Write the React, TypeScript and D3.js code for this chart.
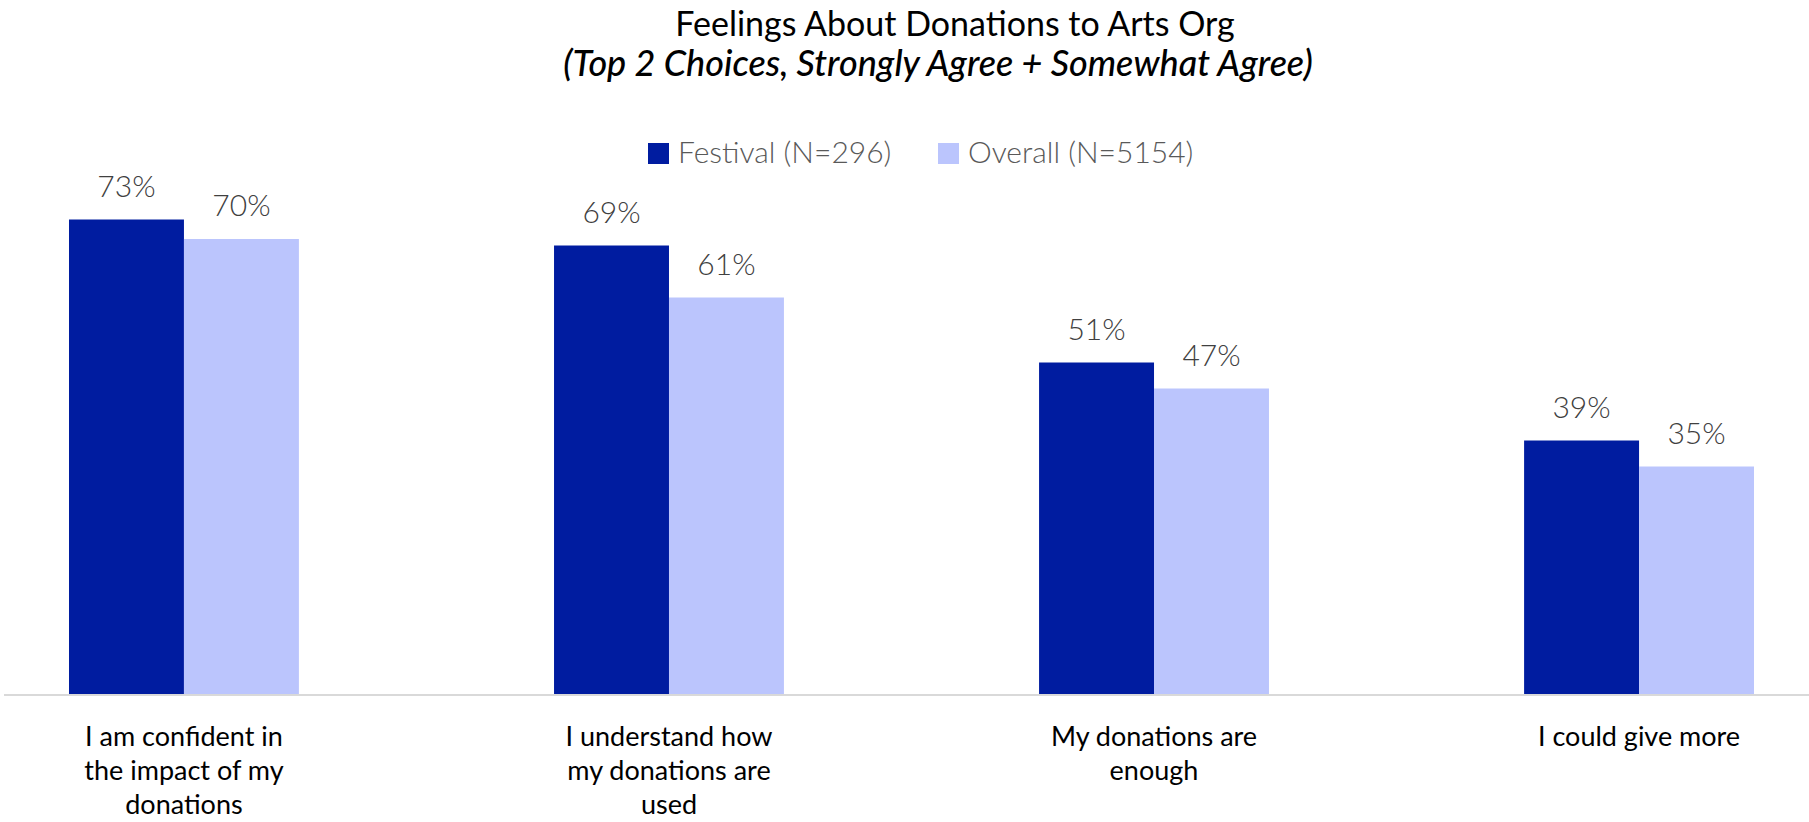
import React from "react";
import * as d3 from "d3";

const categories: string[][] = [
  ["I am confident in", "the impact of my", "donations"],
  ["I understand how", "my donations are", "used"],
  ["My donations are", "enough"],
  ["I could give more"],
];
const seriesNames = ["Festival (N=296)", "Overall (N=5154)"];
const festival = [73, 69, 51, 39];
const overall = [70, 61, 47, 35];
const seriesColors = ["#001CA0", "#BBC5FD"];

const W = 1809;
const H = 822;
const FONT = "Lato, 'Open Sans', sans-serif";

export default function App() {
  const keys = categories.map((c) => c.join(" "));
  const x = d3.scaleBand<string>().domain(keys).range([4, 1819]).paddingInner(0.526).paddingOuter(0.134);
  const xs = d3.scaleBand<number>().domain([0, 1]).range([0, x.bandwidth()]).padding(0);
  const y = d3.scaleLinear().domain([0, 100]).range([694, 44]);
  const series = [festival, overall];

  return (
    <svg width={W} height={H} style={{ position: "absolute", left: 0, top: 0, background: "#fff" }} fontFamily={FONT}>
      <text x={955} y={36} textAnchor="middle" fontSize={34} fill="#000">
        Feelings About Donations to Arts Org
      </text>
      <text x={938} y={76} textAnchor="middle" fontSize={36} fontStyle="italic" fontWeight={500} fill="#000">
        (Top 2 Choices, Strongly Agree + Somewhat Agree)
      </text>

      {/* legend */}
      <g>
        <rect x={648} y={143} width={21} height={21} fill={seriesColors[0]} />
        <text x={678} y={163} fontSize={30} fontWeight={300} fill="#595959">{seriesNames[0]}</text>
        <rect x={938} y={143} width={21} height={21} fill={seriesColors[1]} />
        <text x={968} y={163} fontSize={30} fontWeight={300} fill="#595959">{seriesNames[1]}</text>
      </g>

      {series.map((vals, si) =>
        vals.map((v, i) => {
          const bx = (x(keys[i]) as number) + (xs(si) as number);
          const bw = xs.bandwidth();
          return (
            <g key={`${si}-${i}`}>
              <rect x={bx} y={y(v)} width={bw} height={y(0) - y(v)} fill={seriesColors[si]} />
              <text x={bx + bw / 2} y={y(v) - 23} textAnchor="middle" fontSize={30} fontWeight={300} fill="#404040">
                {v}%
              </text>
            </g>
          );
        })
      )}

      <line x1={4} x2={W} y1={695} y2={695} stroke="#D9D9D9" strokeWidth={2} />

      {categories.map((lines, i) => {
        const cx = (x(keys[i]) as number) + x.bandwidth() / 2;
        return (
          <text key={i} x={cx} y={746} textAnchor="middle" fontSize={27} fill="#000">
            {lines.map((l, j) => (
              <tspan key={j} x={cx} dy={j === 0 ? 0 : 34}>{l}</tspan>
            ))}
          </text>
        );
      })}
    </svg>
  );
}
